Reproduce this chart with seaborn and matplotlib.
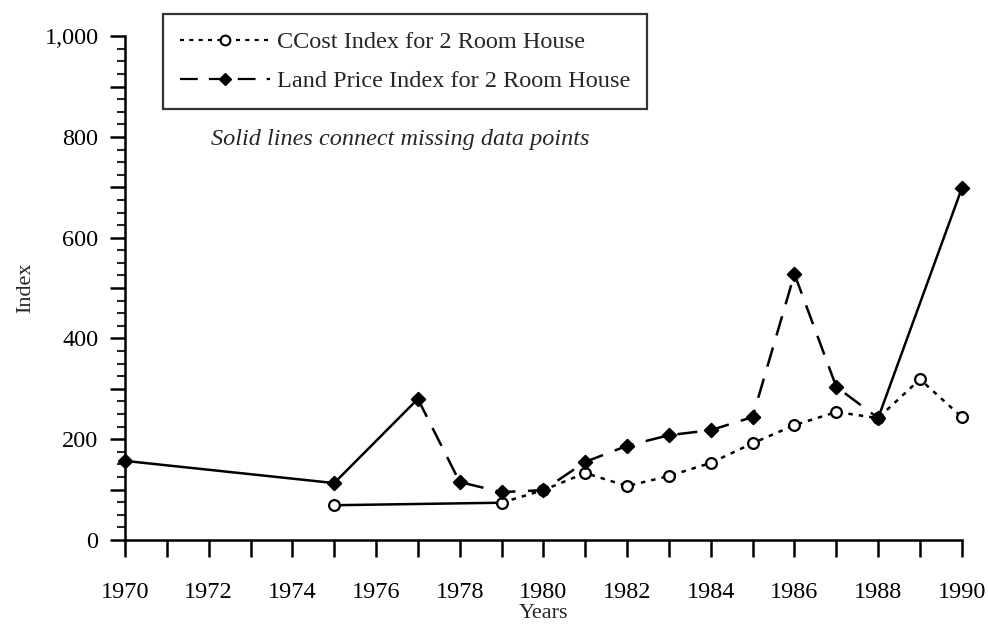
import numpy as np
import pandas as pd
import matplotlib.pyplot as plt
import seaborn as sns
from matplotlib.lines import Line2D
from matplotlib.ticker import MultipleLocator, FuncFormatter

# values (None = missing year)
years = list(range(1970, 1991))
cost_index = [None, None, None, None, None, 69, None, None, None, 74,
              99, 133, 107, 127, 153, 192, 228, 254, 242, 319, 244]
land_index = [157, None, None, None, None, 113, None, 280, 115, 95,
              99, 155, 187, 208, 218, 244, 528, 304, 242, None, 698]

cost_label = "CCost Index for 2 Room House"
land_label = "Land Price Index for 2 Room House"
note_text = "Solid lines connect missing data points"

sns.set_theme(style="white")
plt.rcParams['font.family'] = ['Liberation Serif', 'DejaVu Serif']

fig = plt.figure(figsize=(9.88, 6.29), dpi=100)
ax = fig.add_axes([0.1265, 0.1415, 0.847, 0.801])

styles = {
    "cost": dict(vals=cost_index, dashes=(1.8, 2.4), marker="o", face="white"),
    "land": dict(vals=land_index, dashes=(8, 5), marker="D", face="black"),
}

for name, st in styles.items():
    df = pd.DataFrame({"year": years, "value": st["vals"]}).dropna()
    df["run"] = (df["year"].diff() != 1).cumsum()
    # broken lines for consecutive years
    for run_id, part in df.groupby("run"):
        if len(part) > 1:
            sns.lineplot(data=part, x="year", y="value", ax=ax, color="black",
                         linewidth=1.8, dashes=False, estimator=None,
                         linestyle=(0, st["dashes"]))
    # solid connectors across missing years
    prev = df.iloc[:-1].reset_index(drop=True)
    nxt = df.iloc[1:].reset_index(drop=True)
    for i in range(len(prev)):
        if nxt.loc[i, "year"] - prev.loc[i, "year"] > 1:
            seg = pd.concat([prev.iloc[[i]], nxt.iloc[[i]]])
            sns.lineplot(data=seg, x="year", y="value", ax=ax, color="black",
                         linewidth=1.8, estimator=None)
    sns.scatterplot(data=df, x="year", y="value", ax=ax, marker=st["marker"],
                    s=60 if name == "cost" else 45, facecolor=st["face"],
                    edgecolor="black", linewidth=1.6, zorder=5, clip_on=False)

ax.set_xlim(1970, 1990)
ax.set_ylim(0, 1000)
ax.xaxis.set_major_locator(MultipleLocator(1))
ax.xaxis.set_major_formatter(FuncFormatter(lambda v, p: f"{int(v)}" if int(v) % 2 == 0 else ""))
ax.yaxis.set_major_locator(MultipleLocator(100))
ax.yaxis.set_minor_locator(MultipleLocator(25))
ax.yaxis.set_major_formatter(FuncFormatter(lambda v, p: f"{int(v):,}" if int(v) % 200 == 0 else ""))

ax.tick_params(axis="x", which="major", direction="out", length=12, width=1.8,
               pad=18, labelsize=17.5, colors="black", bottom=True)
ax.tick_params(axis="y", which="major", direction="out", length=11, width=1.8,
               pad=8, labelsize=17.5, colors="black", left=True)
ax.tick_params(axis="y", which="minor", direction="out", length=5.5, width=1.5, left=True)

for side in ["top", "right"]:
    ax.spines[side].set_visible(False)
for side in ["left", "bottom"]:
    ax.spines[side].set_color("black")
    ax.spines[side].set_linewidth(1.8)

ax.set_xlabel("Years", fontsize=16, labelpad=1)
ax.set_ylabel("Index", fontsize=16, labelpad=7)

handles = [
    Line2D([0], [0], color="black", linewidth=1.6, linestyle=(0, (1.8, 2.4)),
           marker="o", markersize=7, markerfacecolor="white", markeredgewidth=1.5),
    Line2D([0], [0], color="black", linewidth=1.6, linestyle=(0, (8, 5)),
           marker="D", markersize=6, markerfacecolor="black"),
]
leg = ax.legend(handles, [cost_label, land_label], loc="upper left",
                bbox_to_anchor=(0.045, 1.044), fontsize=17.5, frameon=True,
                fancybox=False, edgecolor="black", handlelength=3.7,
                handletextpad=0.3, borderpad=0.7, labelspacing=0.7,
                borderaxespad=0)
leg.get_frame().set_linewidth(1.6)

ax.text(0.103, 0.795, note_text, transform=ax.transAxes, fontsize=17.5,
        style="italic", va="center", ha="left")

fig.savefig("out.png", dpi=100)
